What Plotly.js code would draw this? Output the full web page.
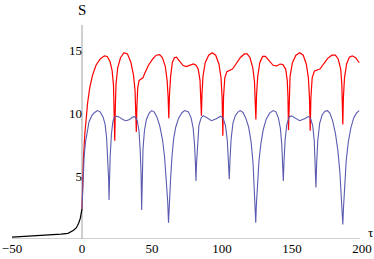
<!DOCTYPE html>
<html>
<head>
<meta charset="utf-8">
<script src="https://cdn.plot.ly/plotly-3.0.1.min.js"></script>
<style>html,body{margin:0;padding:0;background:#fff;}#chart{width:374px;height:259px;}</style>
</head>
<body>
<div id="chart"></div>
<script>
// tick labels
const xTicks = [-50, 0, 50, 100, 150, 200];
const yTicks = [5, 10, 15];

// black curve (tau < 0)
const blackTau = [-50, -40, -30, -20, -15, -10, -6, -4, -2.4, -1.2, -0.5, 0];
const blackS   = [0.15, 0.2, 0.25, 0.32, 0.38, 0.45, 0.7, 0.9, 1.25, 1.65, 2.0, 2.4];

// red curve
const redTau = [0, 0.5, 1, 2, 3, 4, 5.5, 7.5, 10, 13, 16, 18, 20, 21.5, 22.5, 23.0, 23.4, 23.8, 24.3, 25.5, 27.5, 30, 32.5, 35, 36.8, 37.9, 38.4, 38.8, 39.2, 39.8, 40.8, 42, 43.5, 45, 47.5, 50.5, 53, 55.5, 57.5, 59.5, 60.8, 61.5, 62.0, 62.5, 63.3, 64.5, 66, 67.5, 69.5, 72, 74.5, 77, 79.5, 81.5, 83, 84.3, 84.9, 85.3, 85.7, 86.4, 88, 90.5, 93, 95.5, 97.8, 99.3, 100.1, 100.6, 101.1, 102, 103.5, 105.5, 107.5, 110, 113, 116, 118, 120, 122, 123.2, 123.8, 124.2, 124.7, 125.5, 127, 129, 131, 134, 136.5, 139, 141.5, 143.5, 145.5, 146.6, 147.1, 147.5, 147.9, 148.6, 150.3, 152.8, 155.5, 158, 160.2, 161.7, 162.5, 163.0, 163.5, 164.4, 166, 168, 170, 172.5, 175.5, 178.5, 181, 183, 184.8, 185.6, 186.0, 186.3, 186.7, 187.5, 189, 191, 193, 195.5, 198];
const redS   = [2.4, 4.5, 6.3, 8.3, 9.8, 10.8, 12.0, 13.0, 13.8, 14.3, 14.55, 14.5, 14.1, 13.4, 12.2, 10.5, 7.8, 10.5, 12.3, 13.6, 14.4, 14.8, 14.7, 14.0, 13.0, 11.8, 10.3, 8.5, 10.5, 12.0, 12.6, 12.7, 12.8, 13.2, 13.8, 14.3, 14.6, 14.65, 14.4, 13.7, 12.6, 11.3, 9.6, 11.5, 12.9, 14.0, 14.4, 14.45, 14.2, 13.8, 13.7, 13.8, 13.9, 13.8, 13.5, 12.6, 11.4, 9.8, 11.5, 12.9, 14.0, 14.6, 14.8, 14.6, 13.9, 12.8, 11.2, 8.2, 11.3, 12.8, 13.3, 13.4, 13.5, 13.9, 14.4, 14.7, 14.7, 14.4, 13.6, 12.5, 11.2, 9.5, 11.5, 12.9, 14.0, 14.5, 14.5, 14.1, 13.8, 13.75, 13.9, 13.85, 13.5, 12.6, 11.4, 8.65, 11.4, 12.9, 14.0, 14.6, 14.8, 14.6, 13.9, 12.8, 11.2, 8.6, 11.2, 12.8, 13.35, 13.45, 13.5, 13.9, 14.35, 14.6, 14.6, 14.3, 13.5, 12.3, 11.0, 9.1, 11.2, 12.8, 13.9, 14.45, 14.55, 14.4, 14.0];

// blue curve
const blueTau = [0, 0.4, 0.8, 1.5, 2.5, 3.5, 5, 7, 9, 11, 13, 15, 16.5, 17.6, 18.5, 19.0, 19.3, 19.6, 20.1, 21, 22, 23, 24.5, 26.5, 29, 31.5, 34, 36.5, 38, 39.5, 40.7, 41.6, 42.2, 42.6, 43.0, 43.6, 44.6, 46, 48, 49.7, 51.5, 53.5, 55.5, 57.5, 59, 60.3, 61.2, 61.8, 62.4, 63.3, 64.3, 65.5, 67, 69, 71.5, 73.5, 76, 78, 79.4, 80.4, 81.0, 81.4, 81.8, 82.5, 83.5, 85, 86.5, 89, 92.5, 96, 99, 100.8, 102.5, 103.8, 104.6, 105.2, 105.7, 106.5, 107.8, 109.5, 111.5, 113, 115, 117, 119, 120.8, 122.2, 123.2, 123.8, 124.1, 124.5, 125.2, 126.4, 127.8, 129.5, 131.5, 134, 136.5, 138.5, 140.3, 141.7, 142.7, 143.3, 143.8, 144.3, 145.1, 146.3, 148, 149.5, 152, 155.5, 159, 161.5, 163.2, 164.8, 165.9, 166.6, 167.1, 167.6, 168.4, 169.8, 171.5, 173.5, 175.3, 177, 179, 181, 182.8, 184.2, 185.3, 186.0, 186.3, 186.7, 187.5, 188.7, 190.2, 192, 194, 196, 198];
const blueS   = [2.4, 3.8, 5.0, 6.5, 7.7, 8.5, 9.3, 9.8, 10.05, 10.2, 10.1, 9.7, 9.1, 8.0, 6.3, 4.8, 3.1, 4.8, 6.5, 8.3, 9.3, 9.65, 9.75, 9.7, 9.5, 9.4, 9.5, 9.7, 9.7, 9.4, 8.6, 7.0, 5.2, 2.3, 5.2, 7.2, 8.6, 9.5, 10.0, 10.2, 10.1, 9.7, 9.0, 7.9, 6.5, 4.8, 3.0, 1.3, 3.0, 4.8, 6.6, 8.0, 8.9, 9.6, 10.05, 10.2, 10.1, 9.6, 8.8, 7.5, 6.0, 4.6, 6.0, 7.7, 9.0, 9.6, 9.8, 9.65, 9.4, 9.55, 9.75, 9.6, 9.0, 7.8, 6.3, 4.75, 6.3, 7.9, 9.2, 9.8, 10.1, 10.2, 10.05, 9.6, 8.9, 7.7, 6.0, 4.0, 2.4, 1.3, 2.6, 4.3, 6.2, 7.6, 8.7, 9.5, 10.0, 10.2, 10.1, 9.6, 8.8, 7.5, 6.0, 4.6, 6.2, 7.9, 9.1, 9.7, 9.78, 9.6, 9.4, 9.55, 9.72, 9.6, 9.0, 7.8, 6.0, 4.1, 6.0, 7.8, 9.2, 9.85, 10.15, 10.2, 10.0, 9.4, 8.4, 7.0, 5.3, 3.3, 1.8, 1.15, 2.3, 4.3, 6.2, 7.7, 8.8, 9.6, 10.0, 10.2];

const axisColor = '#a0a0a0';
const font = {family: 'Liberation Serif', size: 13, color: '#000'};

const traces = [
  {x: blackTau, y: blackS, mode: 'lines', line: {color: '#000000', width: 1.2}, hoverinfo: 'skip'},
  {x: redTau, y: redS, mode: 'lines', line: {color: '#ff0000', width: 1.2}, hoverinfo: 'skip'},
  {x: blueTau, y: blueS, mode: 'lines', line: {color: '#5a5ab0', width: 1.1}, hoverinfo: 'skip'}
];

const layout = {
  width: 374, height: 259,
  margin: {l: 12, r: 12, t: 25, b: 20, pad: 0},
  paper_bgcolor: '#fff', plot_bgcolor: '#fff',
  showlegend: false,
  font: font,
  xaxis: {
    range: [-50, 200], tickvals: xTicks, ticktext: xTicks.map(v => v < 0 ? '\u2212' + Math.abs(v) : String(v)),
    showline: false, zeroline: false, showgrid: false, ticks: '', tickfont: font, fixedrange: true
  },
  yaxis: {
    range: [0, 17], tickvals: yTicks, anchor: 'free', position: 0.2,
    showline: false, zeroline: false, showgrid: false, ticks: '', tickfont: font, fixedrange: true
  },
  shapes: [
    {type: 'line', xref: 'x', yref: 'y', x0: -50, x1: 198.5, y0: 0, y1: 0, line: {color: axisColor, width: 1}, layer: 'below'},
    {type: 'line', xref: 'x', yref: 'y', x0: 0, x1: 0, y0: 0, y1: 17, line: {color: axisColor, width: 1}, layer: 'below'}
  ],
  annotations: [
    {text: 'S', xref: 'x', yref: 'paper', x: 0, y: 1.07, showarrow: false, xanchor: 'center', yanchor: 'middle', font: {family: 'Liberation Serif', size: 15, color: '#000'}},
    {text: '\u03c4', xref: 'paper', yref: 'paper', x: 1.023, y: 0.032, showarrow: false, xanchor: 'center', yanchor: 'middle', font: {family: 'Liberation Serif', size: 13, color: '#000'}}
  ]
};

Plotly.newPlot('chart', traces, layout, {staticPlot: true, displayModeBar: false});
</script>
</body>
</html>
